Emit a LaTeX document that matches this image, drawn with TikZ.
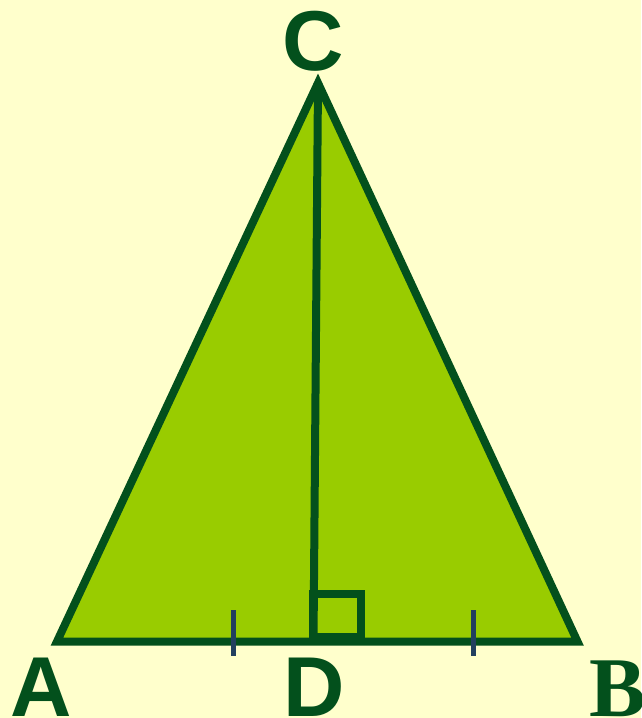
\documentclass[tikz,border=0pt]{standalone}
\usepackage{fontspec}
\setmainfont{Liberation Sans}
\newfontfamily\serifbold{Liberation Serif}
\definecolor{bgyellow}{HTML}{FFFFCC}
\definecolor{trifill}{HTML}{99CC00}
\definecolor{darkgreen}{HTML}{03501C}
\definecolor{tickblue}{HTML}{22405F}
\tikzset{
  edge/.style={draw=darkgreen, line width=8pt, line join=miter, miter limit=20},
  tickmark/.style={draw=tickblue, line width=5pt},
  lbl/.style={text=darkgreen, inner sep=0pt, anchor=base, font=\fontsize{85}{100}\selectfont\bfseries}
}
\begin{document}
\begin{tikzpicture}[x=1pt,y=-1pt]
\fill[bgyellow] (0,0) rectangle (641,718);
\useasboundingbox (0,0) rectangle (641,718);
\coordinate (A) at (57,641.5);
\coordinate (B) at (577.5,641.5);
\coordinate (C) at (318,83);
\coordinate (D) at (313.5,641.5);
\coordinate (Q1) at (313,594);
\coordinate (Q2) at (361,637);
\coordinate (T1a) at (233,610);
\coordinate (T1b) at (233,656);
\coordinate (T2a) at (473,610);
\coordinate (T2b) at (473,656);
\fill[trifill] (A) -- (B) -- (C) -- cycle;
\draw[edge] (C) -- (D);
\draw[edge] (Q1) rectangle (Q2);
\draw[edge] (A) -- (B) -- (C) -- cycle;
\draw[tickmark] (T1a) -- (T1b);
\draw[tickmark] (T2a) -- (T2b);
\node[lbl] (lA) at (41.5,716) {A};
\node[lbl] (lD) at (314.5,716) {D};
\node[lbl] (lC) at (313.5,70.5) {C};
\node[lbl, font=\fontsize{85}{100}\selectfont\serifbold\bfseries] (lB) at (617.5,716) {B};
\end{tikzpicture}
\end{document}
